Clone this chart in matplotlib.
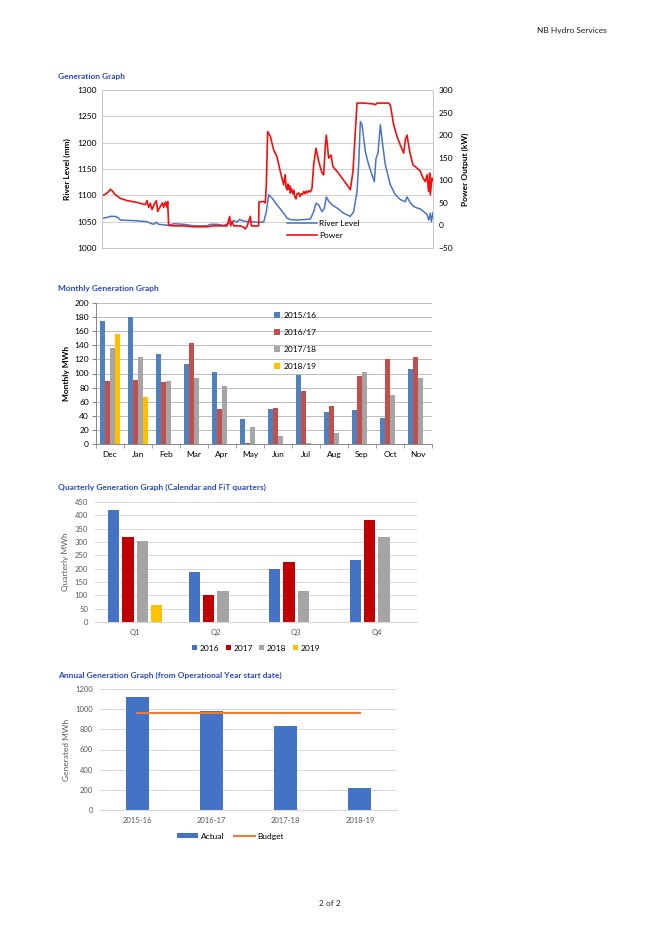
import matplotlib
matplotlib.use("Agg")
import matplotlib.pyplot as plt
import numpy as np

plt.rcParams['font.family'] = ['Lato', 'DejaVu Sans']

W, H = 659, 933

# --- generation graph (river level / power over time) ---
river_t = [0, 15, 25, 40, 50, 55, 95, 135, 145, 155, 163, 170, 185, 200, 215, 245, 275, 315, 325,
           345, 365, 385, 395, 405, 413, 425, 445, 465, 485, 493, 500, 510, 525, 545, 555, 565, 585,
           605, 625, 635, 642, 650, 660, 667, 673, 680, 690, 705, 725, 745, 755, 765, 770, 775, 780,
           790, 800, 810, 817, 822, 828, 835, 842, 850, 865, 880, 895, 910, 915, 925, 935, 945, 955,
           965, 975, 980, 985, 988, 993]
river_mm = [1056, 1058, 1060, 1060, 1057, 1053, 1052, 1050, 1047, 1045, 1049, 1045, 1044, 1043, 1046,
            1045, 1042, 1042, 1045, 1045, 1043, 1047, 1052, 1049, 1054, 1051, 1050, 1049, 1049, 1069,
            1101, 1095, 1082, 1066, 1057, 1054, 1053, 1054, 1055, 1069, 1085, 1082, 1069, 1075, 1097,
            1089, 1082, 1076, 1066, 1060, 1069, 1107, 1158, 1240, 1234, 1183, 1158, 1139, 1126, 1170,
            1180, 1234, 1196, 1158, 1120, 1101, 1092, 1088, 1097, 1086, 1079, 1076, 1074, 1069, 1064,
            1053, 1066, 1050, 1067]

power_t = [0, 10, 20, 25, 30, 40, 55, 75, 105, 130, 135, 140, 145, 150, 157, 163, 167, 175, 181, 185,
           190, 195, 197, 200, 215, 245, 275, 315, 335, 375, 383, 386, 390, 395, 415, 425, 430, 435,
           445, 448, 470, 471, 485, 490, 493, 497, 505, 515, 525, 535, 545, 548, 550, 552, 555, 558,
           560, 563, 565, 568, 570, 573, 575, 578, 582, 585, 590, 594, 597, 601, 605, 609, 612, 616,
           620, 625, 630, 635, 642, 650, 660, 665, 670, 673, 680, 687, 693,
           705, 720, 735, 745, 753, 760, 765, 785, 815, 820, 825, 860, 865, 875, 885, 895, 905, 910,
           915, 923, 933, 945, 955, 963, 970, 975, 980, 983, 985, 990, 993]
power_kw = [66, 69, 75, 80, 77, 68, 60, 55, 51, 46, 55, 40, 49, 35, 47, 55, 31, 42, 50, 40,
            52, 40, 53, 0, -1, -1, -3, -3, -1, -1, 20, -1, 9, -1, -1, -4, -8, -2,
            20, -1, -1, 52, 53, 50, 90, 208, 197, 167, 152, 119, 90, 105, 112, 85, 79, 92,
            80, 88, 72, 82, 76, 70, 78, 65, 59, 70, 72, 64, 70, 68, 75, 70, 76, 72,
            77, 74, 82, 134, 171, 142, 116, 112, 178, 200, 149, 156, 130,
            120, 105, 90, 79, 120, 208, 271, 271, 269, 267, 271, 271, 267, 223, 197, 178, 160, 190,
            200, 164, 134, 127, 120, 105, 97, 112, 75, 116, 68, 105, 100]

# --- monthly generation ---
months = ['Dec', 'Jan', 'Feb', 'Mar', 'Apr', 'May', 'Jun', 'Jul', 'Aug', 'Sep', 'Oct', 'Nov']
m_2015 = [175, 180, 127, 113, 102, 36, 50, 98, 46, 48, 37, 107]
m_2016 = [89, 91, 88, 143, 50, 2, 51, 75, 54, 97, 121, 124]
m_2017 = [136, 123, 90, 93, 82, 24, 12, 1, 15, 102, 69, 94]
m_2018 = [156, 67, 0, 0, 0, 0, 0, 0, 0, 0, 0, 0]
m_labels = ['2015/16', '2016/17', '2017/18', '2018/19']

# --- quarterly generation ---
quarters = ['Q1', 'Q2', 'Q3', 'Q4']
q_2016 = [421, 187, 200, 234]
q_2017 = [320, 102, 226, 381]
q_2018 = [305, 118, 117, 318]
q_2019 = [65, 0, 0, 0]
q_labels = ['2016', '2017', '2018', '2019']

# --- annual generation ---
years = ['2015-16', '2016-17', '2017-18', '2018-19']
actual = [1117, 985, 838, 218]
budget = [958, 958, 958, 958]


def box(l, t, r, b):
    return [l / W, 1 - b / H, (r - l) / W, (b - t) / H]


fig = plt.figure(figsize=(W / 100, H / 100), dpi=100)
title_col = '#2A48C0'
fig.text(537 / W, 1 - 31 / H, 'NB Hydro Services', fontsize=6, va='center', color='#222222')
fig.text(330 / W, 1 - 903 / H, '2 of 2', fontsize=6, va='center', ha='center', color='#222222')

# Chart 1
fig.text(58 / W, 1 - 77 / H, 'Generation Graph', fontsize=6, fontweight='bold', color=title_col, va='center')
ax = fig.add_axes(box(102, 90, 433, 248))
ax2 = ax.twinx()
l1, = ax.plot(river_t, river_mm, color='#4A74C2', lw=1.1, label='River Level')
l2, = ax2.plot(power_t, power_kw, color='#F01010', lw=1.2, label='Power')
ax.set_xlim(0, 993)
ax.set_ylim(1000, 1300)
ax2.set_ylim(-50, 300)
ax.set_yticks(np.arange(1000, 1301, 50))
ax2.set_yticks(np.arange(-50, 301, 50))
ax.set_xticks([])
ax.grid(axis='y', color='#D0D0D0', lw=0.7)
ax.set_axisbelow(True)
for a in (ax, ax2):
    a.tick_params(length=0, labelsize=6, pad=4)
    for s in a.spines.values():
        s.set_color('#C8C8C8')
        s.set_linewidth(0.7)
ax.set_ylabel('River Level (mm)', fontsize=6, fontweight='bold', labelpad=4)
ax2.set_ylabel('Power Output (kW)', fontsize=6, fontweight='bold', labelpad=6)
leg = ax2.legend([l1, l2], ['River Level', 'Power'], loc='upper left', bbox_to_anchor=(0.55, 0.2),
                 fontsize=6, frameon=False, handlelength=3.5, handletextpad=0.3, labelspacing=0.6,
                 borderaxespad=0)

# Chart 2
fig.text(58 / W, 1 - 288 / H, 'Monthly Generation Graph', fontsize=6, fontweight='bold', color=title_col, va='center')
ax = fig.add_axes(box(96, 303, 432, 444))
x = np.arange(len(months))
w = 0.185
cols2 = ['#4F81BD', '#C0504D', '#A5A5A5', '#FFC000']
for i, (vals, lab) in enumerate(zip([m_2015, m_2016, m_2017, m_2018], m_labels)):
    ax.bar(x + (i - 1.5) * w, vals, w, color=cols2[i], label=lab)
ax.set_xlim(-0.5, 11.5)
ax.set_ylim(0, 200)
ax.set_yticks(np.arange(0, 201, 20))
ax.set_xticks(x)
ax.set_xticklabels(months)
ax.set_xticks(np.arange(-0.5, 12, 1), minor=True)
ax.tick_params(axis='x', which='major', length=0, labelsize=6, pad=5)
ax.tick_params(axis='x', which='minor', length=3, color='#888888')
ax.tick_params(axis='y', length=3, labelsize=6, color='#888888', pad=2)
ax.grid(axis='y', color='#BBBBBB', lw=0.7)
ax.set_axisbelow(True)
for s in ['top', 'right']:
    ax.spines[s].set_visible(False)
for s in ['left', 'bottom']:
    ax.spines[s].set_color('#888888')
    ax.spines[s].set_linewidth(0.7)
ax.set_ylabel('Monthly MWh', fontsize=6, fontweight='bold', labelpad=3)
ax.legend(loc='upper left', bbox_to_anchor=(0.52, 0.96), fontsize=6, frameon=False,
          handlelength=0.7, handleheight=0.7, handletextpad=0.5, labelspacing=1.2, borderaxespad=0)

# Chart 3
fig.text(58 / W, 1 - 487 / H, 'Quarterly Generation Graph (Calendar and FiT quarters)', fontsize=6,
         fontweight='bold', color=title_col, va='center')
ax = fig.add_axes(box(95, 502, 417, 622))
x = np.arange(len(quarters))
w = 0.137
pitch = 0.18
cols3 = ['#4472C4', '#C00000', '#A5A5A5', '#FFC000']
for i, (vals, lab) in enumerate(zip([q_2016, q_2017, q_2018, q_2019], q_labels)):
    ax.bar(x + (i - 1.5) * pitch, vals, w, color=cols3[i], label=lab)
ax.set_xlim(-0.5, 3.5)
ax.set_ylim(0, 450)
ax.set_yticks(np.arange(0, 451, 50))
ax.set_xticks(x)
ax.set_xticklabels(quarters)
ax.tick_params(length=0, labelsize=5.5, colors='#595959', pad=5)
ax.grid(axis='y', color='#D9D9D9', lw=0.7)
ax.set_axisbelow(True)
for s in ['top', 'right', 'left']:
    ax.spines[s].set_visible(False)
ax.spines['bottom'].set_color('#D9D9D9')
ax.set_ylabel('Quarterly MWh', fontsize=6, color='#595959', labelpad=4)
ax.legend(loc='upper center', bbox_to_anchor=(0.5, -0.16), ncol=4, fontsize=6, frameon=False,
          handlelength=0.6, handleheight=0.6, handletextpad=0.3, columnspacing=0.8, borderaxespad=0)

# Chart 4
fig.text(58 / W, 1 - 675 / H, 'Annual Generation Graph (from Operational Year start date)', fontsize=6,
         fontweight='bold', color=title_col, va='center')
ax = fig.add_axes(box(100, 689, 397, 810))
x = np.arange(len(years))
b_act = ax.bar(x, actual, 0.31, color='#4472C4', label='Actual')
l_bud, = ax.plot(x, budget, color='#ED7D31', lw=1.5, label='Budget')
ax.set_xlim(-0.5, 3.5)
ax.set_ylim(0, 1200)
ax.set_yticks(np.arange(0, 1201, 200))
ax.set_xticks(x)
ax.set_xticklabels(years)
ax.tick_params(length=0, labelsize=5.5, colors='#595959', pad=5)
ax.grid(axis='y', color='#D9D9D9', lw=0.7)
ax.set_axisbelow(True)
for s in ['top', 'right', 'left']:
    ax.spines[s].set_visible(False)
ax.spines['bottom'].set_color('#D9D9D9')
ax.set_ylabel('Generated MWh', fontsize=6, color='#595959', labelpad=4)
ax.legend([b_act, l_bud], ['Actual', 'Budget'], loc='upper center', bbox_to_anchor=(0.44, -0.16),
          ncol=2, fontsize=6, frameon=False, handlelength=2.5, handleheight=0.6, handletextpad=0.3,
          columnspacing=1.2, borderaxespad=0)

fig.savefig('out.png', dpi=100)
